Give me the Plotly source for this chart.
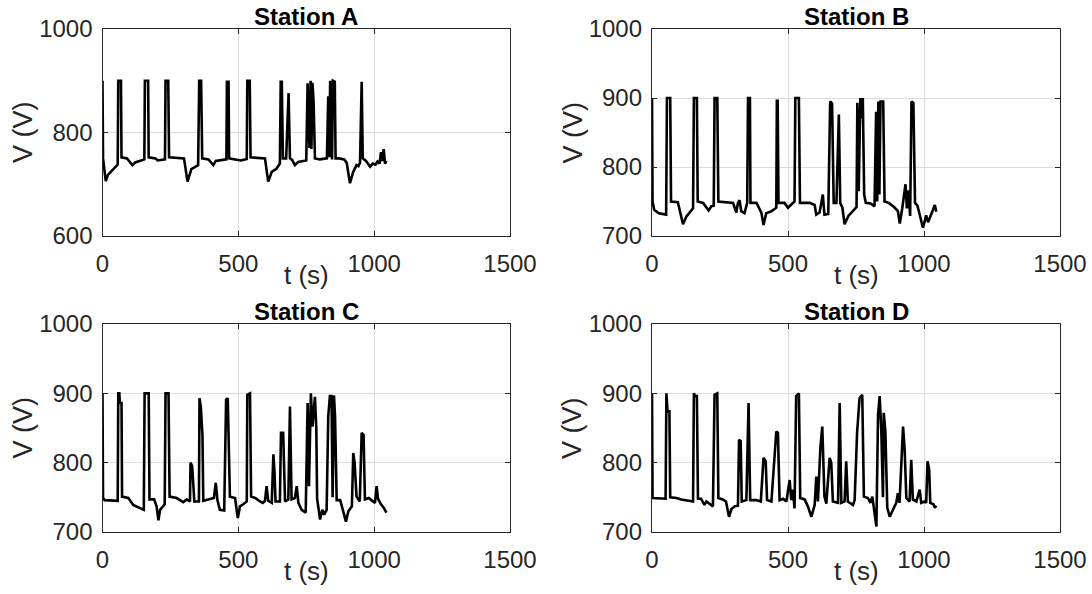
import plotly.graph_objects as go

# Pantograph voltage recorded at four traction substations
t_a = [0, 2, 12, 20, 56, 58, 68, 70, 90, 110, 120, 154, 156, 168, 170, 195, 203, 230, 232, 242,
       245, 300, 313, 327, 340, 352, 356, 363, 367, 390, 408, 417, 456, 458, 464, 466, 488, 510,
       531, 533, 542, 545, 598, 610, 623, 640, 653, 656, 660, 664, 676, 685, 690, 698, 708, 720,
       750, 755, 762, 766, 769, 773, 777, 782, 800, 826, 831, 835, 838, 845, 848, 855, 858, 870,
       890, 899, 911, 923, 935, 942, 948, 954, 958, 970, 985, 995, 1005, 1012, 1020, 1025, 1030,
       1035, 1040, 1045]
v_a = [900, 750, 706, 718, 738, 900, 900, 752, 750, 737, 742, 748, 900, 900, 752, 750, 746, 748, 900, 900,
       752, 750, 705, 729, 733, 737, 900, 900, 750, 748, 737, 745, 748, 898, 898, 750, 748, 746,
       749, 900, 900, 752, 750, 705, 724, 730, 740, 898, 898, 750, 750, 876, 750, 747, 737, 743,
       746, 895, 770, 900, 768, 896, 860, 750, 748, 750, 870, 752, 900, 748, 900, 898, 750, 750,
       748, 741, 702, 724, 737, 735, 742, 898, 750, 745, 734, 740, 738, 744, 740, 762, 745,
       768, 740, 745]

t_b = [0, 2, 8, 25, 52, 55, 67, 70, 95, 114, 126, 151, 154, 165, 168, 188, 208, 218, 227, 230,
       240, 244, 298, 310, 316, 322, 328, 340, 350, 353, 360, 362, 384, 402, 410, 420, 440, 457,
       459, 462, 465, 487, 500, 512, 524, 527, 540, 544, 580, 598, 604, 616, 628, 634, 648, 655,
       662, 668, 678, 687, 692, 700, 708, 722, 740, 752, 755, 760, 766, 770, 775, 780, 786, 804,
       818, 824, 828, 832, 836, 840, 850, 855, 870, 890, 904, 911, 920, 932, 937, 943, 949, 954,
       961, 967, 976, 990, 996, 1003, 1008, 1015, 1025, 1035, 1040, 1045]
v_b = [900, 750, 738, 733, 731, 900, 900, 750, 749, 717, 728, 740, 900, 900, 750, 748, 737, 743, 744, 900,
       900, 750, 748, 734, 748, 752, 736, 733, 748, 900, 900, 748, 748, 734, 716, 733, 736, 741,
       896, 896, 748, 748, 741, 746, 750, 900, 900, 748, 748, 745, 731, 734, 760, 731, 732, 895,
       892, 748, 748, 876, 748, 741, 717, 729, 736, 742, 893, 765, 900, 870, 900, 760, 748, 747,
       743, 880, 750, 895, 760, 895, 895, 750, 748, 742, 736, 718, 740, 775, 740, 766, 729, 895,
       893, 748, 744, 724, 712, 722, 730, 720, 730, 738, 745, 735]

t_c = [0, 2, 8, 56, 58, 62, 64, 70, 72, 95, 113, 130, 152, 155, 170, 173, 190, 199, 206, 212,
       225, 229, 232, 243, 247, 273, 285, 297, 310, 322, 324, 330, 334, 338, 355, 357, 362, 368,
       371, 390, 410, 417, 423, 432, 448, 455, 461, 469, 488, 498, 506, 518, 531, 533, 543, 547,
       562, 580, 590, 598, 604, 610, 623, 629, 633, 637, 653, 657, 665, 672, 684, 690, 696, 708,
       715, 721, 733, 748, 755, 760, 767, 773, 778, 782, 787, 790, 801, 809, 816, 825, 831, 837,
       843, 847, 852, 856, 862, 875, 886, 896, 905, 918, 923, 928, 935, 947, 954, 961, 966, 980,
       990, 1003, 1009, 1014, 1025, 1035, 1045]
v_c = [900, 749, 746, 745, 900, 900, 886, 886, 751, 749, 739, 736, 732, 900, 900, 747, 747, 737, 717, 732,
       737, 740, 900, 900, 751, 749, 746, 743, 747, 744, 800, 795, 770, 744, 744, 893, 880, 840,
       745, 747, 749, 771, 746, 732, 731, 891, 893, 751, 749, 720, 737, 740, 744, 898, 900, 751,
       749, 744, 742, 745, 766, 745, 742, 812, 787, 744, 744, 843, 843, 744, 747, 881, 747, 749,
       766, 742, 732, 728, 886, 766, 900, 852, 886, 895, 850, 748, 718, 732, 725, 732, 867, 896,
       896, 750, 897, 867, 746, 746, 730, 715, 730, 737, 814, 800, 751, 744, 843, 840, 747, 749,
       746, 742, 766, 748, 740, 735, 728]

t_d = [0, 2, 50, 53, 57, 64, 67, 90, 108, 151, 154, 158, 165, 169, 180, 193, 200, 212, 224, 230,
       240, 244, 260, 272, 283, 292, 304, 316, 320, 326, 330, 347, 355, 361, 383, 400, 410, 418,
       423, 439, 457, 463, 469, 482, 494, 506, 512, 518, 524, 530, 540, 545, 561, 573, 586, 598,
       604, 610, 619, 626, 634, 641, 653, 659, 665, 684, 690, 696, 708, 714, 720, 739, 745, 754,
       763, 773, 779, 794, 803, 810, 818, 825, 831, 837, 843, 849, 852, 858, 865, 874, 886, 898,
       904, 910, 923, 929, 935, 947, 953, 959, 972, 984, 990, 1002, 1008, 1013, 1019, 1023, 1035,
       1040, 1045]
v_d = [900, 749, 748, 900, 874, 874, 750, 749, 747, 744, 900, 896, 896, 748, 748, 739, 744, 741, 737, 898,
       900, 749, 747, 744, 722, 733, 737, 738, 833, 831, 744, 746, 886, 746, 746, 744, 807, 802,
       746, 744, 845, 843, 746, 748, 744, 775, 746, 761, 734, 896, 900, 749, 747, 737, 722, 739,
       780, 744, 821, 852, 751, 741, 807, 800, 744, 742, 886, 742, 744, 802, 744, 739, 746, 843,
       893, 898, 751, 749, 742, 751, 727, 708, 869, 896, 847, 750, 872, 845, 735, 722, 732, 742,
       756, 742, 852, 818, 749, 744, 804, 747, 744, 761, 742, 744, 742, 802, 790, 742, 740,
       735, 738]

station_names = ["Station A", "Station B", "Station C", "Station D"]
series = [(t_a, v_a), (t_b, v_b), (t_c, v_c), (t_d, v_d)]
y_ranges = [[600, 1000], [700, 1000], [700, 1000], [700, 1000]]
y_ticks = [[600, 800, 1000], [700, 800, 900, 1000], [700, 800, 900, 1000], [700, 800, 900, 1000]]
x_ticks = [0, 500, 1000, 1500]

W, H = 1092, 594
# panel boxes in pixels: (left, right, top, bottom)
boxes = [(102.5, 510, 29, 236), (652, 1060, 29, 236),
         (102.5, 510, 324, 532), (652, 1060, 324, 532)]

INK = "#262626"
GRID = "#dcdcdc"
FONT = "Liberation Sans, Arial, Helvetica, sans-serif"

fig = go.Figure()
layout = dict(width=W, height=H, margin=dict(l=0, r=0, t=0, b=0, autoexpand=False),
              paper_bgcolor="white", plot_bgcolor="white", showlegend=False,
              font=dict(family=FONT, color=INK, size=24))
annotations = []

for i, ((t, v), name, yr, yt, box) in enumerate(zip(series, station_names, y_ranges, y_ticks, boxes)):
    xa = "x" if i == 0 else f"x{i + 1}"
    ya = "y" if i == 0 else f"y{i + 1}"
    fig.add_trace(go.Scatter(x=t, y=v, mode="lines", xaxis=xa, yaxis=ya,
                             line=dict(color="black", width=2.6)))
    left, right, top, bottom = box
    xd = [left / W, right / W]
    yd = [1 - bottom / H, 1 - top / H]
    key_x = "xaxis" if i == 0 else f"xaxis{i + 1}"
    key_y = "yaxis" if i == 0 else f"yaxis{i + 1}"
    layout[key_x] = dict(domain=xd, anchor=ya, range=[0, 1500], tickvals=x_ticks,
                         automargin=False,
                         showgrid=True, gridcolor=GRID, gridwidth=1, zeroline=False,
                         showline=True, linecolor=INK, linewidth=1.3, mirror="ticks",
                         ticks="inside", ticklen=5, tickcolor=INK, ticklabelstandoff=6,
                         tickfont=dict(size=24, color=INK, family=FONT))
    layout[key_y] = dict(domain=yd, anchor=xa, range=yr, tickvals=yt,
                         automargin=False,
                         showgrid=True, gridcolor=GRID, gridwidth=1, zeroline=False,
                         showline=True, linecolor=INK, linewidth=1.3, mirror="ticks",
                         ticks="inside", ticklen=5, tickcolor=INK, ticklabelstandoff=4,
                         tickfont=dict(size=24, color=INK, family=FONT))
    cx = (left + right) / 2 / W
    annotations.append(dict(text="<b>" + name + "</b>", xref="paper", yref="paper",
                            x=cx, y=yd[1], xanchor="center", yanchor="bottom", yshift=-3,
                            showarrow=False, font=dict(size=24, color="black", family=FONT)))
    annotations.append(dict(text="t (s)", xref="paper", yref="paper",
                            x=cx, y=yd[0], xanchor="center", yanchor="middle", yshift=-39,
                            showarrow=False, font=dict(size=26, color=INK, family=FONT)))
    annotations.append(dict(text="V (V)", xref="paper", yref="paper", textangle=-90,
                            x=(left - 80) / W, y=(yd[0] + yd[1]) / 2,
                            xanchor="center", yanchor="middle",
                            showarrow=False, font=dict(size=27, color=INK, family=FONT)))

layout["annotations"] = annotations
fig.update_layout(**layout)
fig.write_html("out.html")
